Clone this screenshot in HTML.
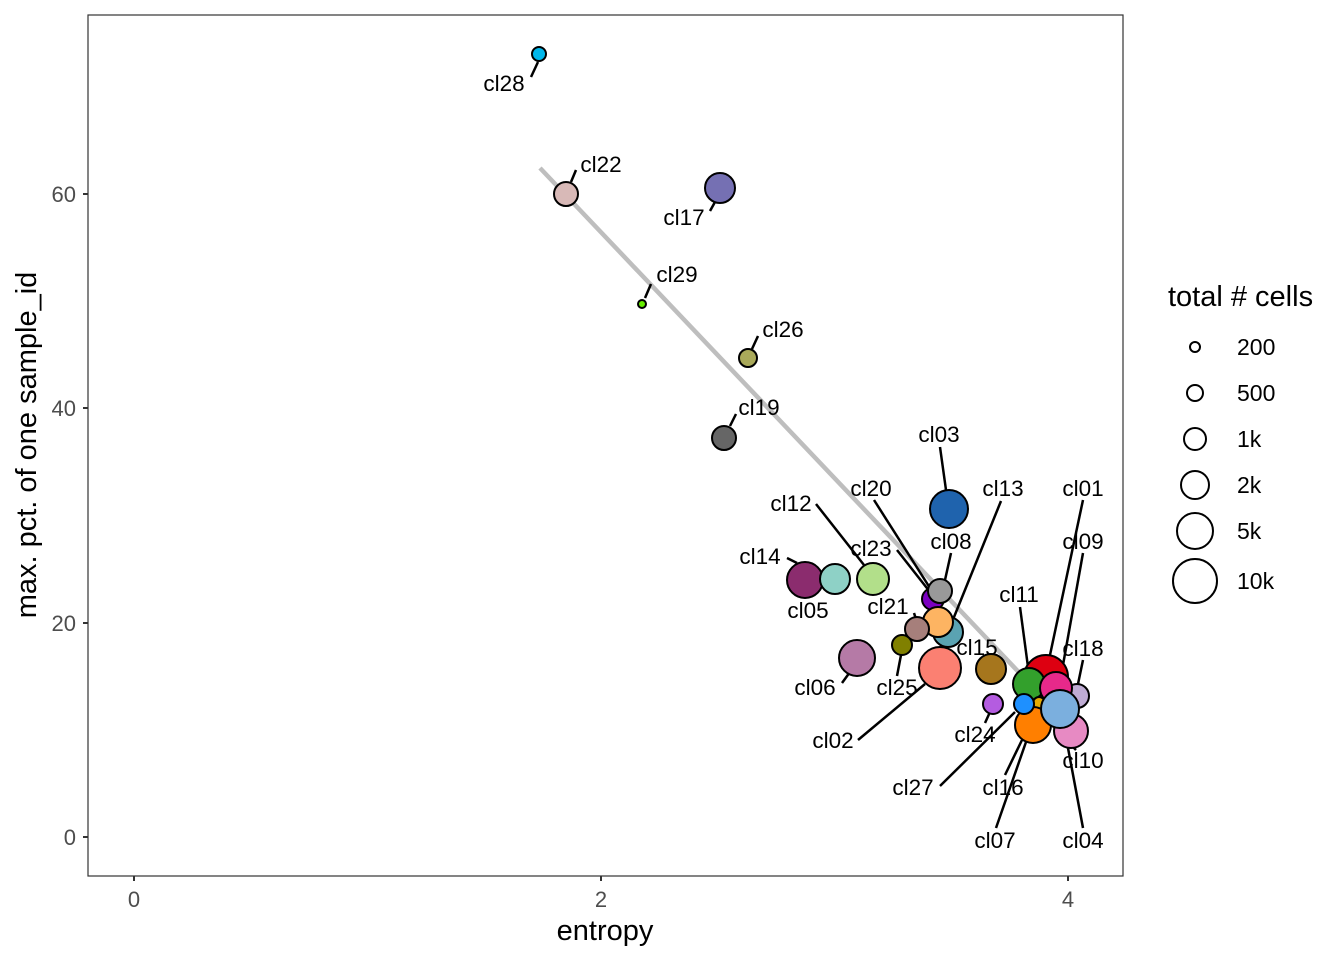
<!DOCTYPE html>
<html><head><meta charset="utf-8"><style>
html,body{margin:0;padding:0;background:#fff;}
svg{display:block;font-family:"Liberation Sans",Arial,sans-serif;}
.l{font-size:22.5px;fill:#000;text-anchor:middle;}
.s{stroke:#000;stroke-width:2.5;}
.t{font-size:22px;fill:#4d4d4d;}
circle{stroke:#000;stroke-width:2;}
</style></head><body>
<svg width="1344" height="960" viewBox="0 0 1344 960">
<rect x="88" y="15" width="1035" height="861" fill="#fff" stroke="#333" stroke-width="1.2"/>
<line x1="540" y1="168" x2="1068" y2="724" stroke="#bebebe" stroke-width="4.5"/>
<g class="s">
<line x1="531" y1="77" x2="538" y2="62"/>
<line x1="571" y1="182" x2="576" y2="170"/>
<line x1="710" y1="211" x2="715" y2="202"/>
<line x1="645" y1="298" x2="651" y2="284"/>
<line x1="752" y1="349" x2="758" y2="336"/>
<line x1="730" y1="426" x2="736" y2="414"/>
<line x1="940" y1="447" x2="946" y2="490"/>
<line x1="816" y1="504" x2="864" y2="565"/>
<line x1="874" y1="500" x2="930" y2="588"/>
<line x1="1001" y1="501" x2="952" y2="622"/>
<line x1="951" y1="553" x2="945" y2="580"/>
<line x1="897" y1="550" x2="930" y2="592"/>
<line x1="787" y1="558" x2="797" y2="563"/>
<line x1="914" y1="613" x2="916" y2="619"/>
<line x1="897" y1="676" x2="901" y2="655"/>
<line x1="842" y1="683" x2="850" y2="672"/>
<line x1="858" y1="740" x2="925" y2="684"/>
<line x1="985" y1="723" x2="990" y2="712"/>
<line x1="1020" y1="607" x2="1028" y2="667"/>
<line x1="1083" y1="500" x2="1050" y2="655"/>
<line x1="1083" y1="553" x2="1063" y2="665"/>
<line x1="1083" y1="660" x2="1078" y2="684"/>
<line x1="1076" y1="750" x2="1072" y2="746"/>
<line x1="1083" y1="828" x2="1068" y2="748"/>
<line x1="940" y1="786" x2="1015" y2="712"/>
<line x1="1005" y1="775" x2="1022" y2="740"/>
<line x1="996" y1="828" x2="1026" y2="742"/>
</g>
<circle cx="539" cy="54" r="7" fill="#00b7eb"/>
<circle cx="566" cy="194" r="12" fill="#d8b9b7"/>
<circle cx="720" cy="188" r="15" fill="#7570b3"/>
<circle cx="642" cy="304" r="4" fill="#66ee00"/>
<circle cx="748" cy="358" r="9" fill="#a9a95a"/>
<circle cx="724" cy="438" r="12" fill="#666666"/>
<circle cx="949" cy="509" r="19" fill="#1f63ad"/>
<circle cx="805" cy="580" r="18" fill="#8b2c6e"/>
<circle cx="835" cy="579" r="15" fill="#8ed1c6"/>
<circle cx="873" cy="579" r="16" fill="#b2df8a"/>
<circle cx="857" cy="658" r="18" fill="#b57aa6"/>
<circle cx="948" cy="632" r="15" fill="#5aa3b2"/>
<circle cx="933" cy="599" r="11" fill="#7b00c0"/>
<circle cx="940" cy="591" r="12" fill="#999999"/>
<circle cx="938" cy="622" r="15" fill="#fdb462"/>
<circle cx="917" cy="629" r="12" fill="#a67f7b"/>
<circle cx="902" cy="645" r="10" fill="#808000"/>
<circle cx="940" cy="668" r="21" fill="#fb8072"/>
<circle cx="991" cy="669" r="15" fill="#a6761d"/>
<circle cx="993" cy="704" r="10" fill="#b45ce0"/>
<circle cx="1046" cy="677" r="22" fill="#dd0011"/>
<circle cx="1077" cy="696" r="12" fill="#bfacd4"/>
<circle cx="1029" cy="684" r="16" fill="#33a02c"/>
<circle cx="1056" cy="688" r="16" fill="#e7298a"/>
<circle cx="1039" cy="703" r="6" fill="#e6ab02"/>
<circle cx="1071" cy="731" r="17" fill="#e78ac3"/>
<circle cx="1033" cy="725" r="18" fill="#ff7f00"/>
<circle cx="1024" cy="704" r="10" fill="#1e90ff"/>
<circle cx="1060" cy="709" r="19" fill="#7bafde"/>
<g class="l">
<text x="504" y="91">cl28</text>
<text x="601" y="172">cl22</text>
<text x="684" y="225">cl17</text>
<text x="677" y="282">cl29</text>
<text x="783" y="337">cl26</text>
<text x="759" y="415">cl19</text>
<text x="939" y="442">cl03</text>
<text x="791" y="511">cl12</text>
<text x="871" y="496">cl20</text>
<text x="1003" y="496">cl13</text>
<text x="951" y="549">cl08</text>
<text x="871" y="556">cl23</text>
<text x="760" y="564">cl14</text>
<text x="808" y="618">cl05</text>
<text x="888" y="614">cl21</text>
<text x="897" y="695">cl25</text>
<text x="815" y="695">cl06</text>
<text x="833" y="748">cl02</text>
<text x="977" y="655">cl15</text>
<text x="975" y="742">cl24</text>
<text x="1019" y="602">cl11</text>
<text x="1083" y="496">cl01</text>
<text x="1083" y="549">cl09</text>
<text x="1083" y="656">cl18</text>
<text x="1083" y="768">cl10</text>
<text x="1083" y="848">cl04</text>
<text x="913" y="795">cl27</text>
<text x="1003" y="795">cl16</text>
<text x="995" y="848">cl07</text>
</g>
<g stroke="#333" stroke-width="2">
<line x1="83" y1="837" x2="88" y2="837"/>
<line x1="83" y1="623" x2="88" y2="623"/>
<line x1="83" y1="408" x2="88" y2="408"/>
<line x1="83" y1="194" x2="88" y2="194"/>
<line x1="134" y1="876" x2="134" y2="881"/>
<line x1="601" y1="876" x2="601" y2="881"/>
<line x1="1068" y1="876" x2="1068" y2="881"/>
</g>
<g class="t" text-anchor="end">
<text x="76" y="845">0</text>
<text x="76" y="631">20</text>
<text x="76" y="416">40</text>
<text x="76" y="202">60</text>
</g>
<g class="t" text-anchor="middle">
<text x="134" y="907">0</text>
<text x="601" y="907">2</text>
<text x="1068" y="907">4</text>
</g>
<text x="605" y="940" font-size="29" text-anchor="middle">entropy</text>
<text transform="translate(36,445) rotate(-90)" font-size="29" text-anchor="middle">max. pct. of one sample_id</text>
<text x="1168" y="306" font-size="29">total # cells</text>
<g>
<circle cx="1195" cy="347" r="5" fill="none" stroke-width="1.5"/>
<circle cx="1195" cy="393" r="8" fill="none" stroke-width="1.5"/>
<circle cx="1195" cy="439" r="11" fill="none" stroke-width="1.5"/>
<circle cx="1195" cy="485" r="14" fill="none" stroke-width="1.5"/>
<circle cx="1195" cy="531" r="18" fill="none" stroke-width="1.5"/>
<circle cx="1195" cy="581" r="22" fill="none" stroke-width="1.5"/>
</g>
<g font-size="23">
<text x="1237" y="355">200</text>
<text x="1237" y="401">500</text>
<text x="1237" y="447">1k</text>
<text x="1237" y="493">2k</text>
<text x="1237" y="539">5k</text>
<text x="1237" y="589">10k</text>
</g>
</svg>
</body></html>
